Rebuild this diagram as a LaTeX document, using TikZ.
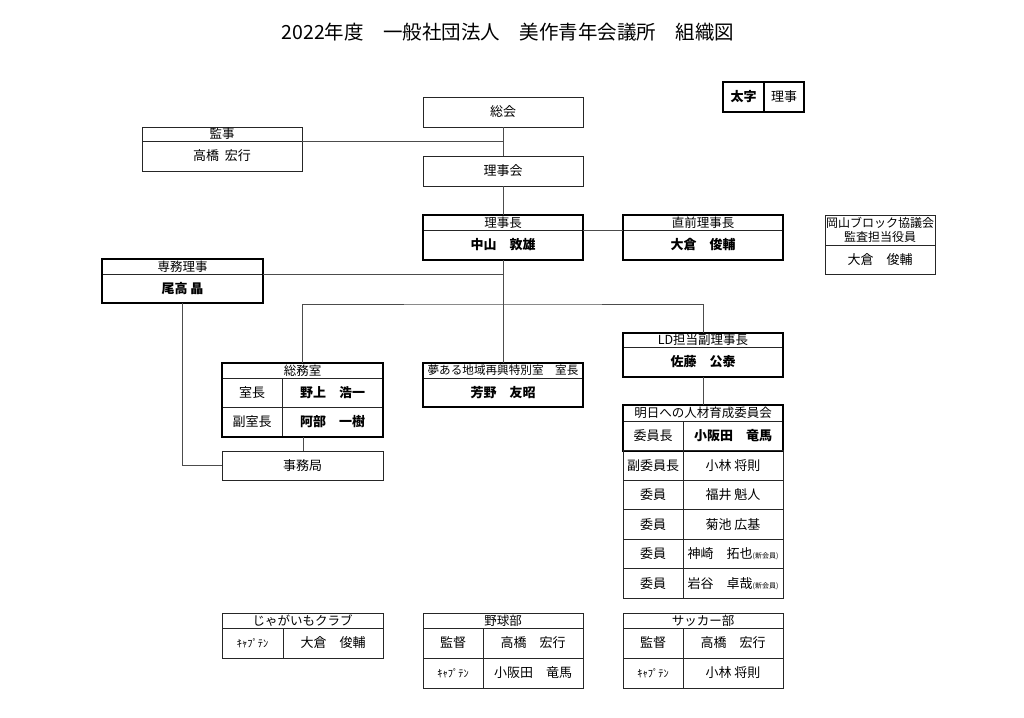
\documentclass[tikz,border=0pt]{standalone}
\usepackage{fontspec}
\setmainfont{Noto Sans CJK JP}
\usetikzlibrary{positioning}

\begin{document}
\begin{tikzpicture}[x=1pt, y=-1pt,
  cell/.style={draw=black!85, line width=0.6pt, anchor=north west,
    inner sep=0pt, outer sep=0pt, minimum height=30pt,
    font=\fontsize{13}{14}\selectfont},
  headcell/.style={cell, minimum height=15pt, font=\fontsize{12.5}{13}\selectfont},
  person/.style={cell, font=\fontsize{13}{14}\selectfont\bfseries},
  captain/.style={cell, font=\fontsize{10.5}{12}\selectfont},
  thickframe/.style={draw=black, line width=2pt},
  link/.style={draw=black!70, line width=0.7pt}]
% canvas
\path[use as bounding box, fill=white] (0,0) rectangle (1024,717);

% --- Title ---
\node[font=\fontsize{19.5}{20}\selectfont] (title) at (508,32)
  {2022年度　一般社団法人　美作青年会議所　組織図};

% --- Legend ---
\node[cell, minimum width=41pt, font=\fontsize{13}{14}\selectfont\bfseries]
  (leg-a) at (723,82) {太字};
\node[cell, minimum width=40pt] (leg-b) at (764,82) {理事};
\draw[thickframe] (leg-a.north west) rectangle (leg-b.south east);
\draw[thickframe] (leg-a.north east) -- (leg-a.south east);

% --- Top: general meeting, auditor, board ---
\node[cell, minimum width=160pt] (sokai) at (423,97) {総会};
\node[headcell, minimum width=160pt, minimum height=14pt] (kanji-h) at (142,127) {監事};
\node[cell, minimum width=160pt] (kanji) at (142,141) {高橋\hspace{0.45em}宏行};
\node[cell, minimum width=160pt] (rijikai) at (423,156) {理事会};

% --- President and former president ---
\node[headcell, minimum width=160pt] (pres-h) at (423,215) {理事長};
\node[person, minimum width=160pt] (pres) at (423,230) {中山　敦雄};
\draw[thickframe] (pres-h.north west) rectangle (pres.south east);
\node[headcell, minimum width=160pt] (prev-h) at (623,215) {直前理事長};
\node[person, minimum width=160pt] (prev) at (623,230) {大倉　俊輔};
\draw[thickframe] (prev-h.north west) rectangle (prev.south east);

% --- Okayama block ---
\node[headcell, minimum width=110pt, minimum height=30pt, align=center,
  font=\fontsize{12}{13.5}\selectfont] (oka-h) at (825,215)
  {岡山ブロック協議会\\監査担当役員};
\node[cell, minimum width=110pt, minimum height=29pt] (oka) at (825,245) {大倉　俊輔};

% --- Executive director ---
\node[headcell, minimum width=161pt] (senmu-h) at (102,259) {専務理事};
\node[person, minimum width=161pt, minimum height=29pt] (senmu) at (102,274) {尾高 晶};
\draw[thickframe] (senmu-h.north west) rectangle (senmu.south east);

% --- General affairs office ---
\node[headcell, minimum width=161pt] (somu-h) at (222,363) {総務室};
\node[cell, minimum width=60pt, minimum height=29pt] (somu-1a) at (222,378) {室長};
\node[person, minimum width=101pt, minimum height=29pt] (somu-1b) at (282,378) {野上　浩一};
\node[cell, minimum width=60pt] (somu-2a) at (222,407) {副室長};
\node[person, minimum width=101pt] (somu-2b) at (282,407) {阿部　一樹};
\draw[thickframe] (somu-h.north west) rectangle (somu-2b.south east);
\node[cell, minimum width=161pt, minimum height=29pt] (jimu) at (222,451) {事務局};

% --- Special office ---
\node[headcell, minimum width=160pt, font=\fontsize{11.6}{12}\selectfont]
  (yume-h) at (423,363) {夢ある地域再興特別室　室長};
\node[person, minimum width=160pt, minimum height=29pt] (yume) at (423,378) {芳野　友昭};
\draw[thickframe] (yume-h.north west) rectangle (yume.south east);

% --- LD vice president ---
\node[headcell, minimum width=160pt, minimum height=14pt] (ld-h) at (623,333) {LD担当副理事長};
\node[person, minimum width=160pt] (ld) at (623,347) {佐藤　公泰};
\draw[thickframe] (ld-h.north west) rectangle (ld.south east);

% --- Committee ---
\node[headcell, minimum width=160pt, minimum height=16pt] (com-h) at (623,405) {明日への人材育成委員会};
\node[cell, minimum width=60pt, minimum height=29.5pt] (com-1a) at (623,421) {委員長};
\node[person, minimum width=100pt, minimum height=29.5pt] (com-1b) at (683,421) {小阪田　竜馬};
\draw[thickframe] (com-h.north west) rectangle (com-1b.south east);
\foreach \r/\role/\who [count=\i from 2] in {
    450.5/副委員長/小林 将則,
    480/委員/福井 魁人,
    509.5/委員/菊池 広基,
    539/委員/{神崎　拓也{\fontsize{7}{8}\selectfont(新会員)}},
    568.5/委員/{岩谷　卓哉{\fontsize{7}{8}\selectfont(新会員)}}} {
  \node[cell, minimum width=60pt, minimum height=29.5pt] (com-\i a) at (623,\r) {\role};
  \node[cell, minimum width=100pt, minimum height=29.5pt] (com-\i b) at (683,\r) {\who};
}

% --- Clubs ---
\node[headcell, minimum width=161pt] (jaga-h) at (222,613) {じゃがいもクラブ};
\node[captain, minimum width=61pt] (jaga-1a) at (222,628) {ｷｬﾌﾟﾃﾝ};
\node[cell, minimum width=100pt] (jaga-1b) at (283,628) {大倉　俊輔};

\node[headcell, minimum width=160pt] (yakyu-h) at (423,613) {野球部};
\node[cell, minimum width=60pt] (yakyu-1a) at (423,628) {監督};
\node[cell, minimum width=100pt] (yakyu-1b) at (483,628) {高橋　宏行};
\node[captain, minimum width=60pt] (yakyu-2a) at (423,658) {ｷｬﾌﾟﾃﾝ};
\node[cell, minimum width=100pt] (yakyu-2b) at (483,658) {小阪田　竜馬};

\node[headcell, minimum width=160pt] (soccer-h) at (623,613) {サッカー部};
\node[cell, minimum width=60pt] (soccer-1a) at (623,628) {監督};
\node[cell, minimum width=100pt] (soccer-1b) at (683,628) {高橋　宏行};
\node[captain, minimum width=60pt] (soccer-2a) at (623,658) {ｷｬﾌﾟﾃﾝ};
\node[cell, minimum width=100pt] (soccer-2b) at (683,658) {小林 将則};

% --- Connectors ---
\coordinate (branch) at (503,304);
\draw[link] (sokai.south) -- (rijikai.north);
\draw[link] (kanji-h.south east) -- (kanji-h.south east -| sokai.south);
\draw[link] (rijikai.south) -- (pres-h.north);
\draw[link] (pres.south) -- (yume-h.north);
\draw[link] (pres-h.south east) -- (prev-h.south west);
\draw[link] (senmu-h.south east) -- (senmu-h.south east -| pres.south);
\draw[link] (somu-h.north) |- (branch) -| (ld-h.north);
\draw[link] (somu-2b.south west) ++(21,0) coordinate (somu-foot) -- (somu-foot |- jimu.north);
\draw[link] (senmu.south) |- (jimu.west);
\draw[link] (ld.south) -- (com-h.north);
\end{tikzpicture}
\end{document}
